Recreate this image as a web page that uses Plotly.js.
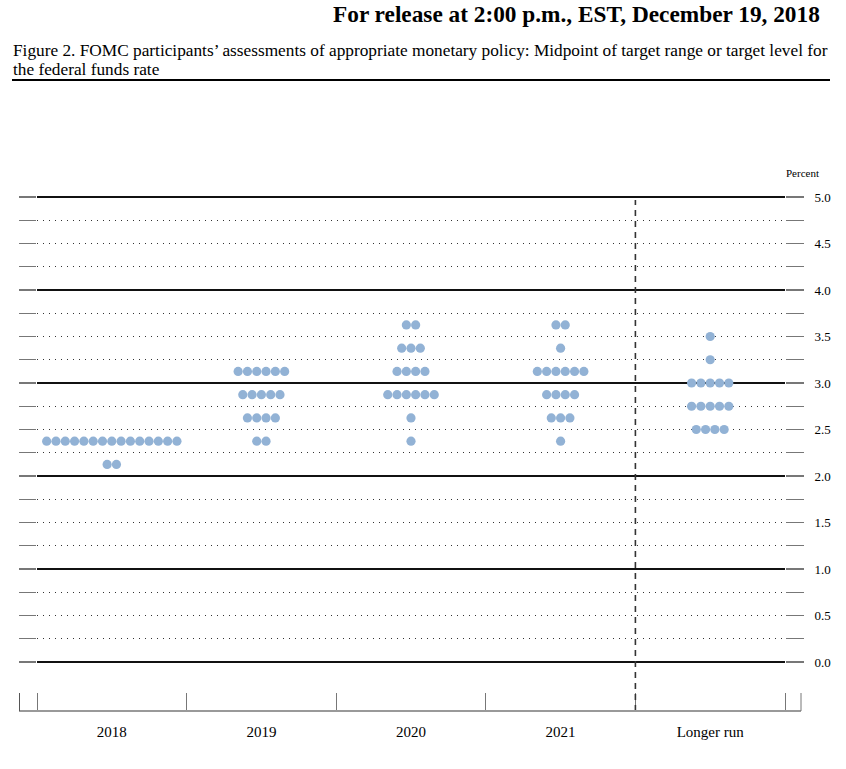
<!DOCTYPE html>
<html>
<head>
<meta charset="utf-8">
<script src="https://cdn.plot.ly/plotly-3.0.1.min.js"></script>
<style>
  html, body { margin: 0; padding: 0; background: #fff; }
  #chart { width: 846px; height: 769px; }
</style>
</head>
<body>
<div id="chart"></div>
<script>
// ---- Data ----
const categories = ["2018", "2019", "2020", "2021", "Longer run"];

// Midpoints of target range (calendar years)
const yearMidpoints = [2.125, 2.375, 2.625, 2.875, 3.125, 3.375, 3.625];
const counts2018 = [2, 15, 0, 0, 0, 0, 0];
const counts2019 = [0, 2, 4, 5, 6, 0, 0];
const counts2020 = [0, 1, 1, 6, 4, 3, 2];
const counts2021 = [0, 1, 3, 4, 6, 1, 2];

// Longer run target levels
const longerRunLevels = [2.5, 2.75, 3.0, 3.25, 3.5];
const countsLongerRun = [4, 5, 5, 1, 1];

const yTickVals = [0, 0.5, 1, 1.5, 2, 2.5, 3, 3.5, 4, 4.5, 5];

// ---- Build dot positions ----
const dotStep = 0.0622; // horizontal spacing between dots, in category units
const xs = [], ys = [];
function addColumn(catIndex, levels, counts) {
  levels.forEach((lv, i) => {
    const n = counts[i];
    for (let k = 0; k < n; k++) {
      xs.push(catIndex + 0.5 + (k - (n - 1) / 2) * dotStep);
      ys.push(lv);
    }
  });
}
addColumn(0, yearMidpoints, counts2018);
addColumn(1, yearMidpoints, counts2019);
addColumn(2, yearMidpoints, counts2020);
addColumn(3, yearMidpoints, counts2021);
addColumn(4, longerRunLevels, countsLongerRun);

const quarterVals = [];
for (let v = 0; v <= 5.0001; v += 0.25) quarterVals.push(Math.round(v * 100) / 100);
const minorQuarter = quarterVals.filter(v => Math.abs(v - Math.round(v)) > 1e-6);
const majorInts = quarterVals.filter(v => Math.abs(v - Math.round(v)) < 1e-6);
const rightText = quarterVals.map(v => yTickVals.includes(v) ? v.toFixed(1) : "");

const FONT = "Liberation Serif, Times New Roman, serif";
// plot area: x 37..785, y 194..711  (5.0 at y=197, 0.0 at y=662)
const TOP = 194, BOT = 711;
const unitPx = 93;
const Y5 = 197, Y0 = Y5 + 5 * unitPx;
const yRange = [-(BOT - Y0) / unitPx, 5 + (Y5 - TOP) / unitPx];

const traces = [
  {
    type: "scatter", mode: "markers",
    x: xs, y: ys,
    marker: { size: 9.2, color: "rgb(146,178,213)", line: { width: 0 } },
    hoverinfo: "skip", showlegend: false
  },
  {
    type: "scatter", mode: "markers", x: [], y: [], yaxis: "y2",
    showlegend: false, hoverinfo: "skip"
  }
];

const W = 748, H = BOT - TOP;
const px = v => (v - 37) / W;
const py = v => 1 + (TOP - v) / H;

const layout = {
  width: 846, height: 769,
  margin: { l: 37, r: 846 - 785, t: TOP, b: 769 - BOT, pad: 0 },
  paper_bgcolor: "#fff", plot_bgcolor: "#fff",
  font: { family: FONT, color: "#000" },
  showlegend: false,
  xaxis: {
    range: [0, 5], fixedrange: true,
    showgrid: false, zeroline: false, showline: false,
    tickvals: [0.5, 1.5, 2.5, 3.5, 4.5], ticktext: categories,
    ticks: "", ticklen: 0,
    tickfont: { family: FONT, size: 15, color: "#000" },
    ticklabelstandoff: 10,
    minor: { tickvals: [0, 1, 2, 3, 4, 5], ticks: "inside", ticklen: 18, tickcolor: "#777", tickwidth: 1, showgrid: false }
  },
  yaxis: {
    range: yRange, fixedrange: true,
    zeroline: false, showline: false,
    tickvals: majorInts, showticklabels: false,
    showgrid: true, gridcolor: "#111", gridwidth: 1.6,
    ticks: "outside", ticklen: 17, tickcolor: "#777", tickwidth: 1.3,
    minor: {
      tickvals: minorQuarter, ticks: "outside", ticklen: 17, tickcolor: "#777", tickwidth: 1.3,
      showgrid: true, gridcolor: "#333", gridwidth: 1, griddash: "1.3px,4.7px"
    }
  },
  yaxis2: {
    range: yRange, fixedrange: true, overlaying: "y", side: "right",
    zeroline: false, showline: false, showgrid: false,
    tickvals: quarterVals, ticktext: rightText,
    ticks: "outside", ticklen: 18, tickcolor: "#777", tickwidth: 1.3,
    tickfont: { family: FONT, size: 13, color: "#000" },
    ticklabelstandoff: 8
  },
  shapes: [
    // vertical dashed separator before "Longer run"
    { type: "line", xref: "x", yref: "paper", x0: 4, x1: 4, y0: 0, y1: py(200),
      line: { color: "#333", width: 1.6, dash: "6px,5px" } },
    // bottom frame line
    { type: "line", xref: "paper", yref: "paper", x0: px(19), x1: px(801), y0: 0, y1: 0,
      line: { color: "#999", width: 2 } },
    // end ticks of bottom frame
    { type: "line", xref: "paper", yref: "paper", x0: px(19.5), x1: px(19.5), y0: 0, y1: 18 / H,
      line: { color: "#555", width: 1 } },
    { type: "line", xref: "paper", yref: "paper", x0: px(801), x1: px(801), y0: 0, y1: 18 / H,
      line: { color: "#777", width: 1 } },
    // heading rule
    { type: "line", xref: "paper", yref: "paper", x0: px(12), x1: px(830), y0: py(80), y1: py(80),
      line: { color: "#000", width: 2 } }
  ],
  annotations: [
    { xref: "paper", yref: "paper", x: px(822), y: py(14), xanchor: "right", yanchor: "middle",
      showarrow: false, text: "<b>For release at 2:00 p.m., EST, December 19, 2018</b>",
      font: { family: FONT, size: 23.3, color: "#000" } },
    { xref: "paper", yref: "paper", x: px(11), y: py(51), xanchor: "left", yanchor: "middle", align: "left",
      showarrow: false,
      text: "Figure 2. FOMC participants’ assessments of appropriate monetary policy: Midpoint of target range or target level for",
      font: { family: FONT, size: 17.3, color: "#000" } },
    { xref: "paper", yref: "paper", x: px(11), y: py(69), xanchor: "left", yanchor: "middle", align: "left",
      showarrow: false,
      text: "the federal funds rate",
      font: { family: FONT, size: 17.3, color: "#000" } },
    { xref: "paper", yref: "paper", x: px(802), y: py(173), xanchor: "center", yanchor: "middle",
      showarrow: false, text: "Percent",
      font: { family: FONT, size: 11, color: "#000" } }
  ]
};

Plotly.newPlot("chart", traces, layout, { staticPlot: true, displayModeBar: false });
</script>
</body>
</html>
